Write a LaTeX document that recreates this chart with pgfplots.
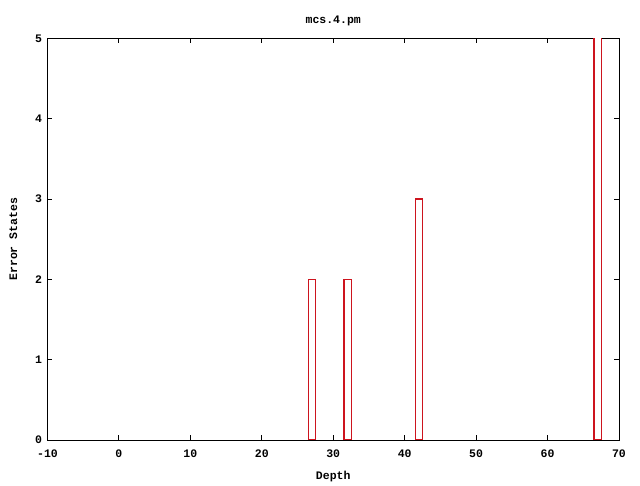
\documentclass[border=0pt]{standalone}
\usepackage{fontspec}
\setmainfont{Liberation Mono}
\usepackage{pgfplots}
\pgfplotsset{compat=1.18}
\definecolor{gpred}{RGB}{205,20,30}
\begin{document}
\begin{tikzpicture}
\path[fill=white] (0,0) rectangle (640bp,480bp);
\begin{axis}[
  at={(47.5bp,40bp)}, anchor=south west,
  scale only axis, width=571.5bp, height=401.5bp,
  xmin=-10, xmax=70, ymin=0, ymax=5,
  xtick={-10,0,...,70}, ytick={0,1,...,5},
  tick align=inside, major tick length=4.5bp,
  axis line style={black, line width=0.9bp},
  every tick/.style={black, line width=0.9bp},
  font=\fontsize{11.5bp}{13bp}\selectfont\bfseries,
  /pgf/number format/assume math mode=true,
  xticklabel style={yshift=-6bp},
  yticklabel style={xshift=-2bp},
  title={mcs.4.pm},
  title style={yshift=3bp},
  xlabel={Depth},
  ylabel={Error States},
  xlabel style={yshift=-7bp},
  ylabel style={yshift=11bp},
  clip=true,
]
\addplot[ybar, bar width=1, draw=gpred, fill=white, line width=1.2bp, mark=none] coordinates {
  (27,2) (32,2) (42,3) (67,6)
};
\end{axis}
\end{tikzpicture}
\end{document}
